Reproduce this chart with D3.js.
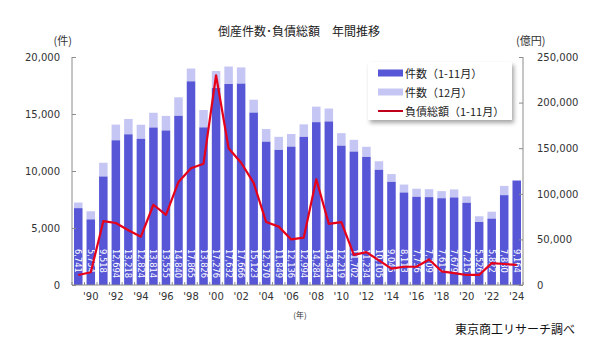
<!DOCTYPE html>
<html>
<head>
<meta charset="utf-8">
<script src="https://cdn.jsdelivr.net/npm/d3@7"></script>
<style>
  html, body { margin: 0; padding: 0; background: #fff; }
  svg { display: block; }
  text { font-family: "DejaVu Sans", sans-serif; }
  .jp { font-family: "Noto Sans CJK JP", sans-serif; }
</style>
</head>
<body>
<svg id="chart" width="596" height="343"></svg>
<script>
// Years 1989–2024
const years = d3.range(1989, 2025);

// Bankruptcy counts, January–November
const countJanNov = [
  6741, 5754, 9518, 12694, 13218, 12824, 13814, 13555, 14840, 17865,
  13826, 17276, 17632, 17666, 15123, 12570, 11849, 12136, 12994, 14284,
  14344, 12219, 11702, 11234, 10105, 9045, 8113, 7736, 7709, 7613,
  7679, 7215, 5526, 5822, 7880, 9164
];

// Bankruptcy counts, December only (2024 not yet available)
const countDec = [
  493, 714, 1205, 1375, 1346, 1237, 1294, 1279, 1624, 1123,
  1526, 1493, 1532, 1421, 1132, 1109, 1149, 1109, 1097, 1362,
  1136, 1102, 1032, 890, 750, 686, 699, 710, 696, 622,
  704, 558, 504, 606, 810, 0
];

// Total liabilities, January–November (100 million yen)
const debtJanNov = [
  11000, 14000, 70000, 68000, 60000, 53000, 88000, 77000, 113000, 128000,
  133000, 230000, 150000, 134000, 112000, 69000, 64000, 50000, 52000, 116000,
  67000, 69000, 33000, 36000, 27000, 18000, 20000, 20000, 28000, 15000,
  13000, 11000, 11000, 24000, 23000, 22000
];

const leftTicks = [0, 5000, 10000, 15000, 20000];
const rightTicks = [0, 50000, 100000, 150000, 200000, 250000];

const colDark = "#5656d6";
const colLight = "#c6c6f4";
const colLine = "#e6001a";
const axisCol = "#8c8c8c";

const svg = d3.select("#chart");
const plotL = 72, plotR = 523, plotT = 57, plotB = 285;

const x = d3.scaleBand().domain(years).range([plotL, plotR]).paddingInner(0.32).paddingOuter(0.16);
const yL = d3.scaleLinear().domain([0, 20000]).range([plotB, plotT]);
const yR = d3.scaleLinear().domain([0, 250000]).range([plotB, plotT]);

// Title
svg.append("text").attr("class", "jp").attr("x", 218).attr("y", 36)
  .attr("font-size", 12).attr("fill", "#222")
  .text("倒産件数･負債総額　年間推移");

// Stacked bars
const g = svg.append("g");
g.selectAll("rect.dec").data(years).join("rect")
  .attr("x", d => x(d))
  .attr("width", x.bandwidth())
  .attr("y", (d, i) => yL(countJanNov[i] + countDec[i]))
  .attr("height", (d, i) => yL(countJanNov[i]) - yL(countJanNov[i] + countDec[i]))
  .attr("fill", colLight);
g.selectAll("rect.jn").data(years).join("rect")
  .attr("x", d => x(d))
  .attr("width", x.bandwidth())
  .attr("y", (d, i) => yL(countJanNov[i]))
  .attr("height", (d, i) => yL(0) - yL(countJanNov[i]))
  .attr("fill", colDark);

// Count labels inside the bars, vertical
g.selectAll("text.val").data(years).join("text")
  .attr("transform", d => `translate(${x(d) + x.bandwidth() / 2},249) rotate(90)`)
  .attr("dominant-baseline", "central")
  .attr("font-size", 8.3).attr("fill", "#fff")
  .text((d, i) => d3.format(",")(countJanNov[i]));

// Liabilities line
const line = d3.line()
  .x((d, i) => x(years[i]) + x.bandwidth() / 2)
  .y(d => yR(d));
svg.append("path").datum(debtJanNov)
  .attr("d", line).attr("fill", "none")
  .attr("stroke", colLine).attr("stroke-width", 2.2)
  .attr("stroke-linejoin", "round");

// Axes
const axL = d3.axisLeft(yL).tickValues(leftTicks).tickSize(-4).tickPadding(12).tickFormat(d3.format(","));
const axR = d3.axisRight(yR).tickValues(rightTicks).tickSize(-4).tickPadding(14).tickFormat(d3.format(","));
const axB = d3.axisBottom(x).tickValues(years.filter(y => y % 2 === 0)).tickSize(0).tickPadding(8)
  .tickFormat(d => "'" + String(d).slice(2));

function styleAxis(sel) {
  sel.selectAll("path, line").attr("stroke", axisCol);
  sel.selectAll("text").attr("font-size", 10).attr("fill", "#333")
    .attr("font-family", "DejaVu Sans, sans-serif");
}
svg.append("g").attr("transform", `translate(${plotL},0)`).call(axL).call(styleAxis)
  .call(s => s.select(".domain").attr("d", `M0,${plotT}V${plotB}`));
svg.append("g").attr("transform", `translate(${plotR},0)`).call(axR).call(styleAxis)
  .call(s => s.select(".domain").attr("d", `M0,${plotT}V${plotB}`));
svg.append("g").attr("transform", `translate(0,${plotB})`).call(axB).call(styleAxis)
  .call(s => s.select(".domain").attr("d", `M${plotL},0H${plotR}`));

// Category boundary ticks along the baseline
svg.append("g").selectAll("line").data(d3.range(years.length + 1)).join("line")
  .attr("x1", i => plotL + i * x.step()).attr("x2", i => plotL + i * x.step())
  .attr("y1", plotB).attr("y2", plotB - 3)
  .attr("stroke", axisCol);

// Units
svg.append("text").attr("class", "jp").attr("x", 72).attr("y", 45)
  .attr("text-anchor", "end").attr("font-size", 11).attr("fill", "#333").text("(件)");
svg.append("text").attr("class", "jp").attr("x", 516).attr("y", 45)
  .attr("font-size", 11).attr("fill", "#333").text("(億円)");
svg.append("text").attr("class", "jp").attr("x", 300).attr("y", 318)
  .attr("text-anchor", "middle").attr("font-size", 8).attr("fill", "#333").text("(年)");

// Source
svg.append("text").attr("class", "jp").attr("x", 575).attr("y", 334)
  .attr("text-anchor", "end").attr("font-size", 12).attr("fill", "#111").text("東京商工リサーチ調べ");

// Legend
const defs = svg.append("defs");
const f = defs.append("filter").attr("id", "sh").attr("x", "-10%").attr("y", "-10%").attr("width", "130%").attr("height", "140%");
f.append("feDropShadow").attr("dx", 2).attr("dy", 3).attr("stdDeviation", 2).attr("flood-color", "#000").attr("flood-opacity", 0.35);
const lg = svg.append("g");
lg.append("rect").attr("x", 368).attr("y", 62).attr("width", 144).attr("height", 58)
  .attr("fill", "#fff").attr("filter", "url(#sh)");
const items = [
  { label: "件数（1-11月）", type: "bar", color: colDark },
  { label: "件数（12月）", type: "bar", color: colLight },
  { label: "負債総額（1-11月）", type: "line", color: "#c0001a" }
];
items.forEach((it, i) => {
  const cy = 73 + i * 19;
  if (it.type === "bar") {
    lg.append("rect").attr("x", 378).attr("y", cy - 3.5).attr("width", 25).attr("height", 7).attr("fill", it.color);
  } else {
    lg.append("line").attr("x1", 378).attr("x2", 403).attr("y1", cy).attr("y2", cy)
      .attr("stroke", it.color).attr("stroke-width", 2);
  }
  lg.append("text").attr("class", "jp").attr("x", 405).attr("y", cy)
    .attr("dominant-baseline", "central").attr("font-size", 11).attr("fill", "#222").text(it.label);
});
</script>
</body>
</html>
